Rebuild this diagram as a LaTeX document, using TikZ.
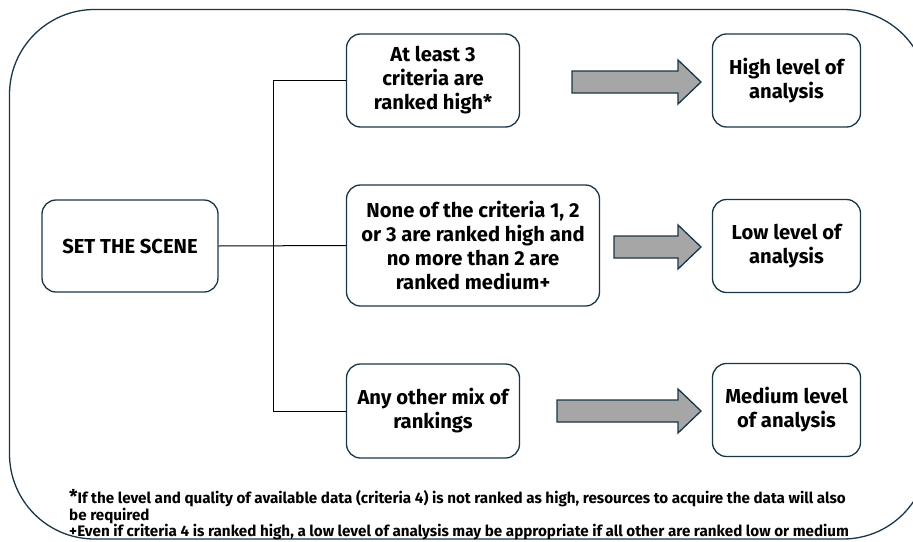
\documentclass[tikz,border=0pt]{standalone}
\usepackage{fontspec}
\setmainfont{Fira Sans}
\usepackage{tikz}
\usetikzlibrary{positioning}
\definecolor{boxline}{RGB}{24,54,72}
\definecolor{arrowgray}{RGB}{166,166,166}

\begin{document}
\begin{tikzpicture}[x=1pt,y=-1pt,
    box/.style={draw=boxline, line width=1.3pt, rounded corners=14pt, align=center,
        inner sep=0pt, font=\bfseries\fontsize{20.2}{24}\selectfont},
    link/.style={line width=1pt, black},
    bigarrow/.style={draw=boxline, line width=1.3pt, fill=arrowgray, line join=miter}]
    \useasboundingbox (0,0) rectangle (913,541);
    % Frame
    \draw[boxline, line width=1.3pt, rounded corners=85pt] (9.5,9.5) rectangle (928,539);
    % Left
    \node[box, minimum width=176pt, minimum height=92pt] (scene) at (130,246) {SET THE SCENE};
    % Middle
    \node[box, minimum width=173pt, minimum height=93pt] (crithigh) at (433,80.5)
        {At least 3\\ criteria are\\ ranked high*};
    \node[box, minimum width=253pt, minimum height=121pt] (critlow) at (473,245.5)
        {None of the criteria 1, 2\\ or 3 are ranked high and\\ no more than 2 are\\ ranked medium+};
    \node[box, minimum width=173pt, minimum height=94pt] (critmix) at (433,411)
        {Any other mix of\\ rankings};
    % Right
    \node[box, minimum width=148pt, minimum height=93pt] (lvlhigh) at (786.5,80.5) {High level of\\ analysis};
    \node[box, minimum width=148pt, minimum height=93pt] (lvllow) at (786.5,246) {Low level of\\ analysis};
    \node[box, minimum width=148pt, minimum height=93pt] (lvlmed) at (786.5,410) {Medium level\\ of analysis};
    % Links
    \draw[link] (scene.east) -- (critlow.west);
    \draw[link] (crithigh.west) -- ++(-72,0) |- (critmix.west);
    % Arrows
    \foreach \xs/\y in {572/82, 614/247, 557/411}
    {
        \draw[bigarrow] (\xs,\y-11) -- (678,\y-11) -- (678,\y-22) -- (701,\y)
            -- (678,\y+22) -- (678,\y+11) -- (\xs,\y+11) -- cycle;
    }
    % Notes
    \node[anchor=north west, align=left, inner sep=0pt, font=\bfseries\fontsize{15.2}{15.5}\selectfont] (notes) at (69,489)
        {{\fontsize{19}{15.5}\selectfont *}If the level and quality of available data (criteria 4) is not ranked as high, resources to acquire the data will also\\
        be required\\
        +Even if criteria 4 is ranked high, a low level of analysis may be appropriate if all other are ranked low or medium};
\end{tikzpicture}
\end{document}
